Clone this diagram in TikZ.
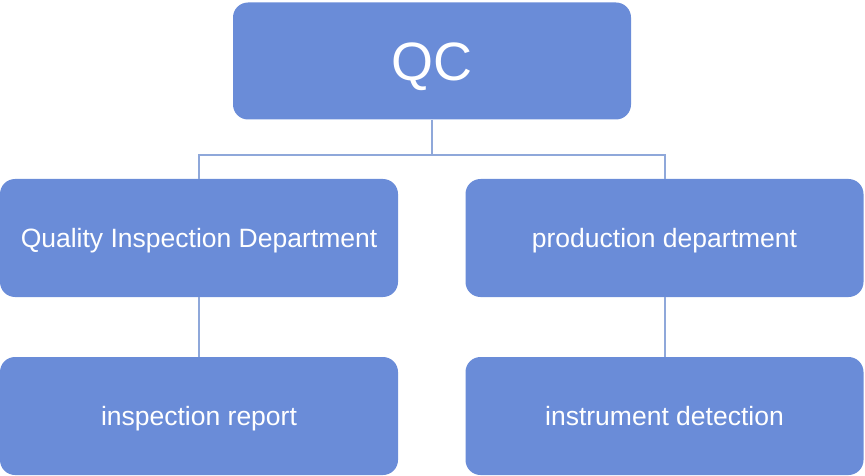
\documentclass[tikz,border=0pt]{standalone}
\usepackage{fontspec}
\setmainfont{Liberation Sans}
\definecolor{boxblue}{RGB}{106,140,216}
\definecolor{linkblue}{RGB}{143,168,218}
\begin{document}
\begin{tikzpicture}[x=1pt, y=-1pt,
  every node/.style={font=\fontsize{26.5}{31}\selectfont, text=white},
  unit/.style={fill=boxblue, rounded corners=15pt, minimum width=398pt, minimum height=118pt, inner sep=0pt, text height=19pt, text depth=0pt},
  link/.style={draw=linkblue, line width=2pt}]
  \useasboundingbox (0,0) rectangle (865,476);
  \node[unit, minimum height=117pt, text height=40pt, font=\fontsize{54}{60}\selectfont] (qc) at (432,61) {QC};
  \node[unit] (qid) at (199,238) {Quality Inspection Department};
  \node[unit] (prod) at (664.5,238) {production department};
  \node[unit] (report) at (199,416) {inspection report};
  \node[unit] (instr) at (664.5,416) {instrument detection};
  % connectors
  \draw[link] (qc.south) -- ++(0,35) coordinate (split);
  \draw[link] (split) -| (qid.north);
  \draw[link] (split) -| (prod.north);
  \draw[link] (qid.south) -- (report.north);
  \draw[link] (prod.south) -- (instr.north);
\end{tikzpicture}
\end{document}
